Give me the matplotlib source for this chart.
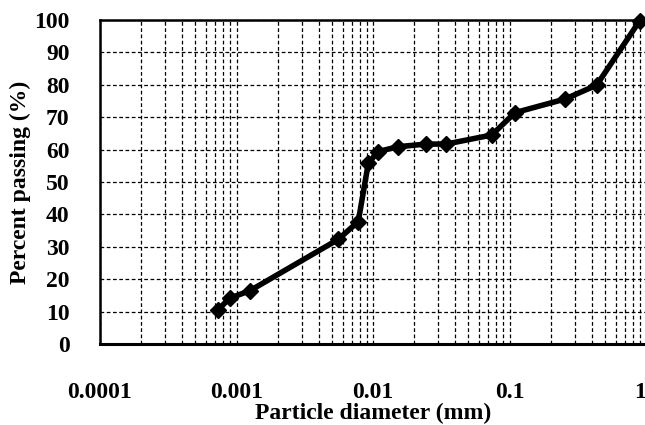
import matplotlib
matplotlib.use('Agg')
from matplotlib import pyplot as plt
from matplotlib.ticker import FixedLocator, LogLocator, NullFormatter
import numpy as np

plt.rcParams['font.family'] = ['Liberation Serif', 'DejaVu Serif']
plt.rcParams['font.weight'] = 'bold'

# particle size distribution
diameter = [0.00073, 0.00089, 0.00126, 0.00557, 0.0078, 0.00924, 0.0109,
            0.0153, 0.0244, 0.0343, 0.0741, 0.1097, 0.255, 0.435, 0.9]
passing = [10.5, 14.1, 16.5, 32.3, 37.8, 55.8, 59.4,
           60.9, 61.7, 61.7, 64.5, 71.4, 75.6, 79.9, 99.8]

x_ticks = [0.0001, 0.001, 0.01, 0.1, 1]
x_labels = ['0.0001', '0.001', '0.01', '0.1', '1']
y_ticks = list(range(0, 101, 10))

W, H = 645, 425
fig = plt.figure(figsize=(W / 100, H / 100), dpi=100)
ax = fig.add_axes([100 / W, 81 / H, 546 / W, 324 / H])

ax.plot(diameter, passing, color='black', lw=4, marker='D', ms=8,
        mfc='black', mec='black', clip_on=False, zorder=5)

ax.set_xscale('log')
ax.set_xlim(1e-4, 1)
ax.set_ylim(0, 100)
ax.xaxis.set_major_locator(FixedLocator(x_ticks))
ax.set_xticklabels(x_labels)
ax.xaxis.set_minor_locator(LogLocator(base=10, subs=np.arange(2, 10)))
ax.xaxis.set_minor_formatter(NullFormatter())
ax.set_yticks(y_ticks)

ax.grid(True, which='both', axis='x', color='black', ls=(0, (3, 2)), lw=0.9)
ax.grid(True, which='major', axis='y', color='black', ls=(0, (3, 2)), lw=0.9)
ax.set_axisbelow(True)

ax.tick_params(axis='both', which='both', length=0, labelsize=17)
ax.tick_params(axis='x', pad=27)
ax.tick_params(axis='y', pad=22)
# last label sits at the figure edge, keep it inside
ax.get_xticklabels()[-1].set_horizontalalignment('right')

for s in ['top', 'left']:
    ax.spines[s].set_linewidth(1.8)
ax.spines['bottom'].set_linewidth(2.2)
ax.spines['right'].set_visible(False)

ax.set_xlabel('Particle diameter (mm)', fontsize=17, fontweight='bold', labelpad=0)
ax.set_ylabel('Percent passing (%)', fontsize=17, fontweight='bold', labelpad=2)

fig.savefig('out.png', dpi=100)
